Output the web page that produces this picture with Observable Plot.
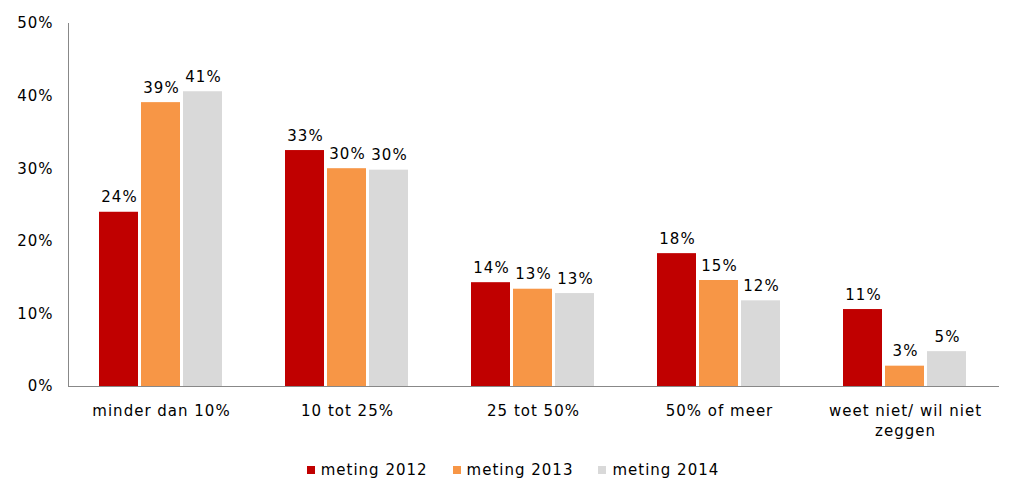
<!DOCTYPE html>
<html>
<head>
<meta charset="utf-8">
<script src="https://cdn.jsdelivr.net/npm/d3@7"></script>
<script src="https://cdn.jsdelivr.net/npm/@observablehq/plot@0.6"></script>
<style>
  html, body { margin: 0; padding: 0; background: #fff; }
  body { width: 1022px; height: 497px; overflow: hidden; font-family: "DejaVu Sans", Verdana, sans-serif; }
  #legend { display: flex; justify-content: center; gap: 25px; font-size: 15px; letter-spacing: 1px; color: #000; margin-top: 11px; padding-left: 4px; }
  #legend .item { display: flex; align-items: center; }
  #legend .sw { width: 8px; height: 8px; margin-right: 6px; display: inline-block; }
</style>
</head>
<body>
<div id="chart"></div>
<div id="legend"></div>
<script>
const categories = ["minder dan 10%", "10 tot 25%", "25 tot 50%", "50% of meer", "weet niet/ wil niet zeggen"];
const series = ["meting 2012", "meting 2013", "meting 2014"];
const v2012 = [24.0, 32.5, 14.3, 18.3, 10.6];
const v2013 = [39.1, 30.0, 13.4, 14.6, 2.8];
const v2014 = [40.6, 29.8, 12.8, 11.8, 4.8];
const colors = ["#C00000", "#F79646", "#D9D9D9"];
const yTicks = [0, 10, 20, 30, 40, 50];

const valuesBySeries = [v2012, v2013, v2014];
const data = [];
categories.forEach((c, i) => {
  series.forEach((s, j) => data.push({category: c, series: s, value: valuesBySeries[j][i]}));
});

const plot = Plot.plot({
  width: 1022,
  height: 450,
  marginTop: 23,
  marginBottom: 64,
  marginLeft: 68,
  marginRight: 24,
  style: {fontFamily: "'DejaVu Sans', Verdana, sans-serif", fontSize: "15px", letterSpacing: "1px", color: "#000", background: "#fff"},
  fx: {domain: categories, padding: 0, label: null},
  x: {domain: series, paddingInner: 0.07, paddingOuter: 0.7, axis: null},
  y: {domain: [0, 50], label: null},
  color: {domain: series, range: colors},
  marks: [
    Plot.barY(data, {fx: "category", x: "series", y: "value", fill: "series"}),
    Plot.text(data, {fx: "category", x: "series", y: "value", text: d => Math.round(d.value) + "%", lineAnchor: "bottom", dy: -10, dx: 0.5, fontSize: 15, fill: "#000"}),
    Plot.axisY({ticks: yTicks, tickFormat: d => d + "%", tickSize: 0, tickPadding: 15, fontSize: 15, fill: "#000"}),
    Plot.axisFx({anchor: "bottom", tickSize: 0, tickPadding: 15, fontSize: 15, fill: "#000", lineHeight: 1.33, label: null,
      tickFormat: d => d.replace("wil niet ", "wil niet\n")}),
    Plot.frame({anchor: "left", facet: "super", stroke: "#888"}),
    Plot.frame({anchor: "bottom", facet: "super", stroke: "#888"})
  ]
});
document.getElementById("chart").appendChild(plot);

const legend = d3.select("#legend");
series.forEach((s, j) => {
  const item = legend.append("div").attr("class", "item");
  item.append("span").attr("class", "sw").style("background", colors[j]);
  item.append("span").text(s);
});
</script>
</body>
</html>
